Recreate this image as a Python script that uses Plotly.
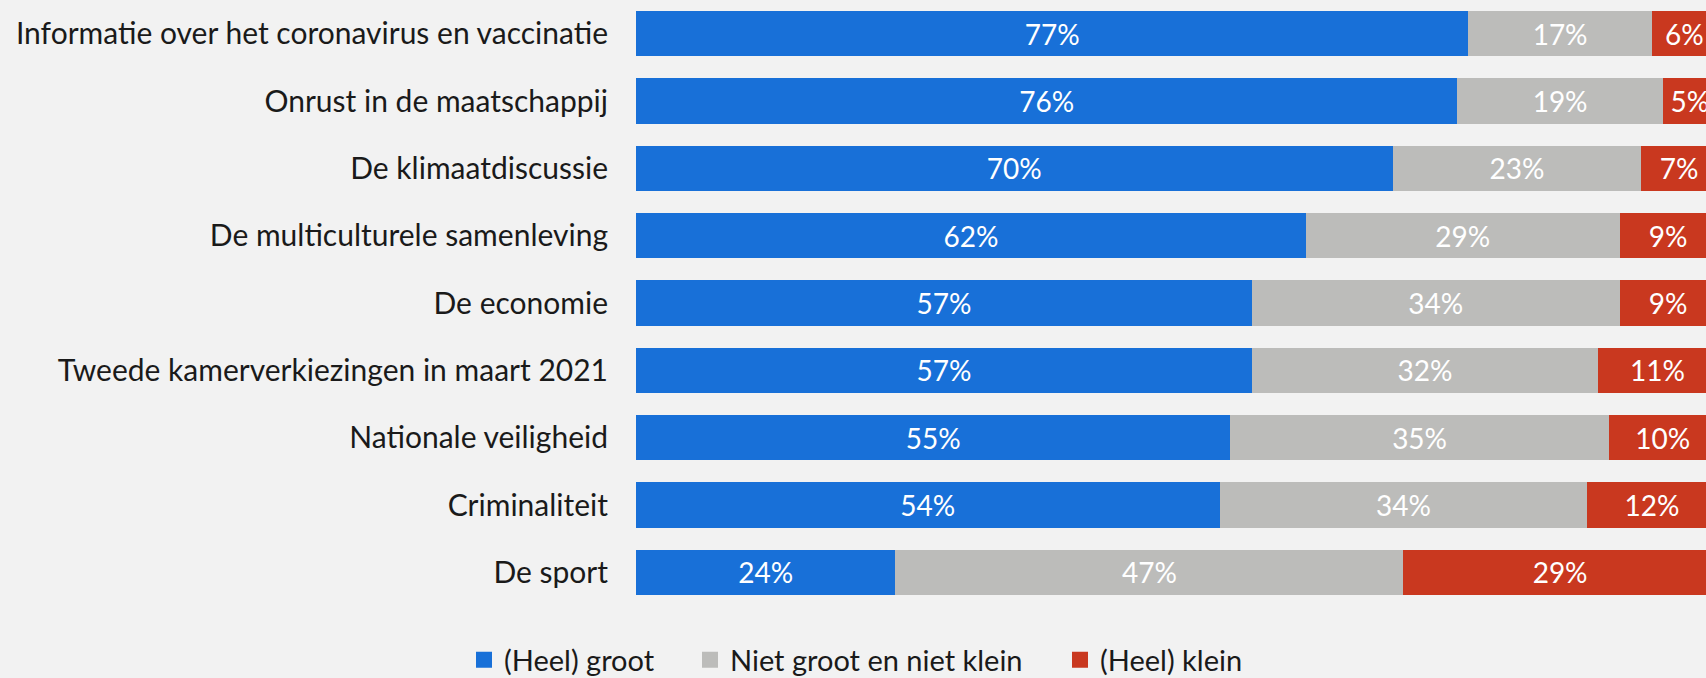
import plotly.graph_objects as go

categories = [
    "Informatie over het coronavirus en vaccinatie",
    "Onrust in de maatschappij",
    "De klimaatdiscussie",
    "De multiculturele samenleving",
    "De economie",
    "Tweede kamerverkiezingen in maart 2021",
    "Nationale veiligheid",
    "Criminaliteit",
    "De sport",
]
groot = [77, 76, 70, 62, 57, 57, 55, 54, 24]
neutraal = [17, 19, 23, 29, 34, 32, 35, 34, 47]
klein = [6, 5, 7, 9, 9, 11, 10, 12, 29]

series_names = ["(Heel) groot", "Niet groot en niet klein", "(Heel) klein"]
series_values = [groot, neutraal, klein]
series_colors = ["#1870d8", "#bcbcba", "#c9381f"]
legend_ids = ["legend", "legend2", "legend3"]
legend_x = [464, 690, 1060]  # left edge of each legend entry, px

FONT = "Lato, 'Open Sans', sans-serif"
W, H = 1706, 678

fig = go.Figure()
for name, vals, color, lg in zip(series_names, series_values, series_colors, legend_ids):
    fig.add_trace(go.Bar(
        y=categories, x=vals, name=name, orientation="h",
        marker=dict(color=color, line=dict(width=0)),
        text=[f"{v}%" for v in vals], textposition="inside",
        insidetextanchor="middle", textangle=0, constraintext="none",
        textfont=dict(color="white", size=28, family=FONT),
        showlegend=False, legendgroup=name,
    ))
    # legend marker entry (square)
    fig.add_trace(go.Scatter(
        x=[None], y=[None], mode="markers", name=name, legend=lg,
        legendgroup=name,
        marker=dict(symbol="square", size=18, color=color),
        showlegend=True, hoverinfo="skip",
    ))

legend_common = dict(
    orientation="h", xref="container", yref="container",
    xanchor="left", y=1 - 660 / H, yanchor="middle",
    font=dict(size=29, color="#1a1a1a", family=FONT),
    itemsizing="trace", bgcolor="rgba(0,0,0,0)", borderwidth=0,
)

fig.update_layout(
    barmode="stack",
    width=W, height=H,
    paper_bgcolor="#f2f2f2", plot_bgcolor="#f2f2f2",
    margin=dict(l=636, r=0, t=0, b=72),
    bargap=0.324,
    font=dict(family=FONT, size=30, color="#1a1a1a"),
    uniformtext=dict(minsize=20, mode="show"),
    xaxis=dict(range=[0, 99], visible=False, fixedrange=True),
    yaxis=dict(autorange="reversed", showgrid=False, zeroline=False,
               showline=False, ticks="", ticklabelstandoff=27,
               tickfont=dict(size=30, color="#1a1a1a", family=FONT)),
    legend=dict(x=legend_x[0] / W, **legend_common),
    legend2=dict(x=legend_x[1] / W, **legend_common),
    legend3=dict(x=legend_x[2] / W, **legend_common),
    showlegend=True,
)

fig.write_html(
    "out.html",
    config={"displayModeBar": False},
    post_script="document.body.style.margin='0px';document.body.style.background='#f2f2f2';",
)
